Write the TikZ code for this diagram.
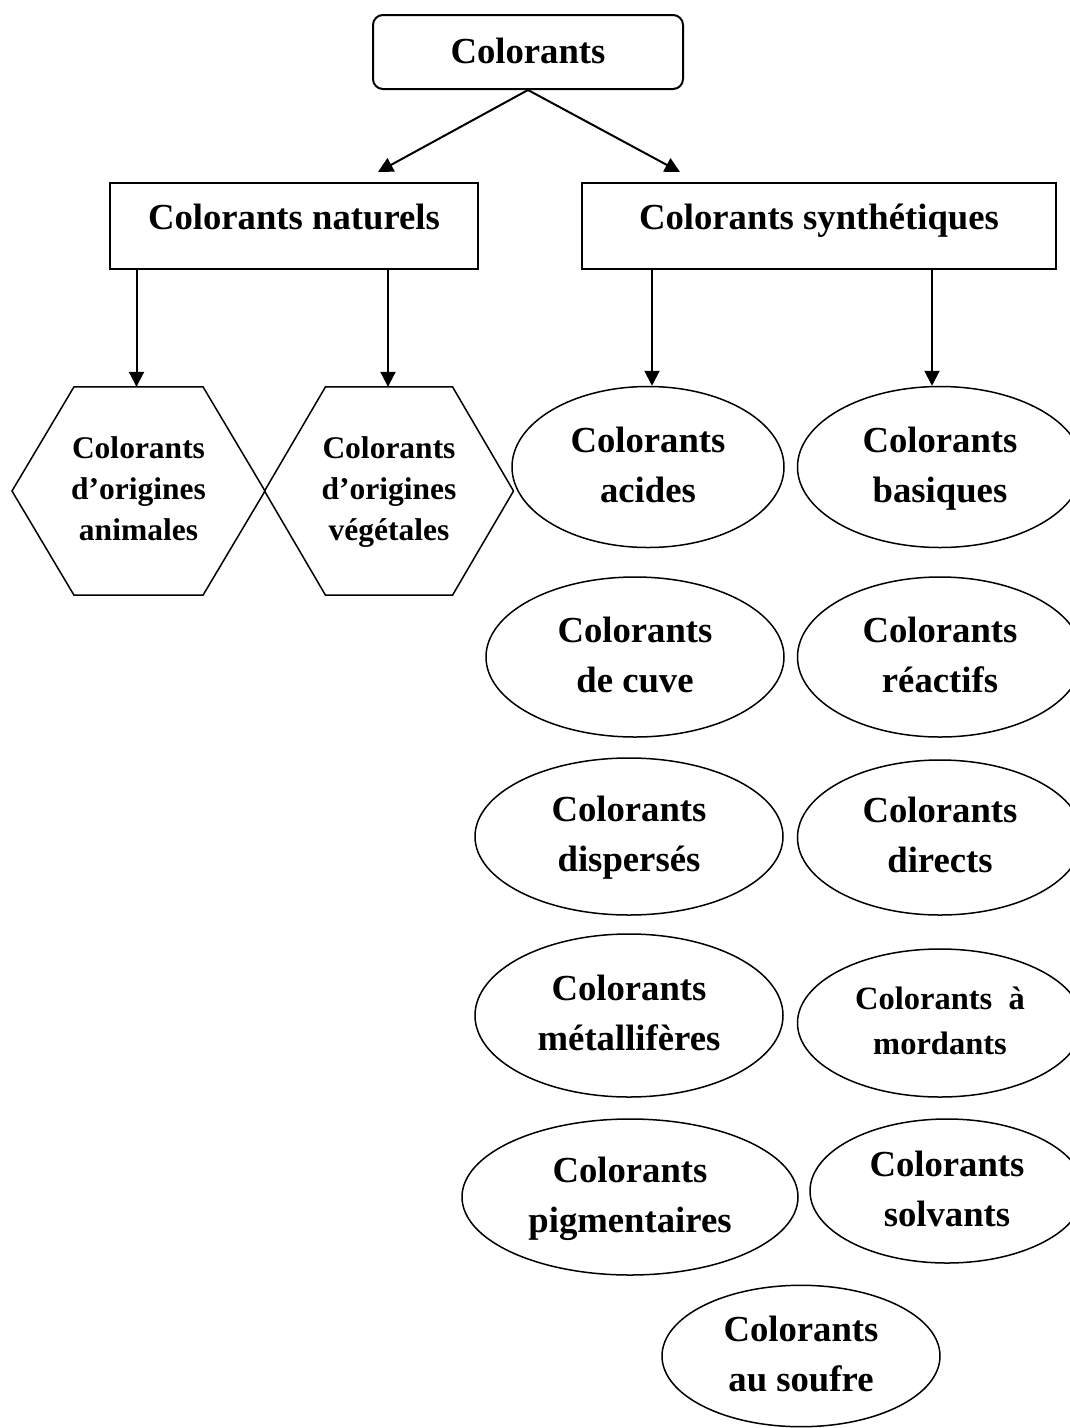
\documentclass[tikz,border=0pt]{standalone}
\usepackage{fontspec}
\setmainfont{Liberation Serif}
\usetikzlibrary{shapes.geometric,arrows.meta,calc}
\begin{document}
\begin{tikzpicture}[x=1pt,y=-1pt,
  big/.style={font=\fontsize{36.7}{50}\selectfont\bfseries},
  boxnode/.style={draw,line width=2pt,inner xsep=0pt,inner ysep=0pt,big},
  ell/.style={draw,ellipse,line width=1.5pt,inner sep=0pt,align=center,big},
  hexlab/.style={inner sep=0pt,align=center,font=\fontsize{31.5}{41}\selectfont\bfseries},
  hexline/.style={line width=1.5pt,line join=miter},
  arr/.style={line width=2pt,-{Triangle[length=15pt,width=15pt]}}]
\clip (0,0) rectangle (1070,1428);
\fill[white] (0,0) rectangle (1070,1428);

% top level
\node[boxnode,rounded corners=10pt,minimum width=310pt,text height=48pt,text depth=26pt] (top) at (528,52) {Colorants};
\node[boxnode,minimum width=368pt,text height=46pt,text depth=40pt] (nat) at (294,226) {Colorants naturels};
\node[boxnode,minimum width=474pt,text height=46pt,text depth=40pt] (syn) at (819,226) {Colorants synthétiques};

% hexagons
\node[hexlab,minimum width=253pt,minimum height=208pt] (h1) at (138.5,491) {\strut Colorants\\\strut d’origines\\\strut animales};
\node[hexlab,minimum width=250pt,minimum height=208pt] (h2) at (389,491) {\strut Colorants\\\strut d’origines\\\strut végétales};
\foreach \h/\w/\t in {h1/126.5/64.5,h2/124.5/63.5}
  \draw[hexline] ([xshift=-\w pt]\h.center) -- ([xshift=-\t pt]\h.north) -- ([xshift=\t pt]\h.north)
     -- ([xshift=\w pt]\h.center) -- ([xshift=\t pt]\h.south) -- ([xshift=-\t pt]\h.south) -- cycle;

% ellipses
\node[ell,minimum width=272pt,minimum height=161pt] (acid) at (648,467) {\strut Colorants\\\strut acides};
\node[ell,minimum width=285pt,minimum height=161pt] (bas) at (940,467) {\strut Colorants\\\strut basiques};
\node[ell,minimum width=298pt,minimum height=160pt] (cuve) at (635,657) {\strut Colorants\\\strut de cuve};
\node[ell,minimum width=285pt,minimum height=160pt] (reac) at (940,657) {\strut Colorants\\\strut réactifs};
\node[ell,minimum width=308pt,minimum height=157pt] (disp) at (629,836.5) {\strut Colorants\\\strut dispersés};
\node[ell,minimum width=285pt,minimum height=155pt] (dir) at (940,837.5) {\strut Colorants\\\strut directs};
\node[ell,minimum width=308pt,minimum height=163pt] (met) at (629,1015.5) {\strut Colorants\\\strut métallifères};
\node[ell,minimum width=285pt,minimum height=148pt,font=\fontsize{32.5}{45}\selectfont\bfseries] (mord) at (940,1023) {\strut Colorants\ \ à\\\strut mordants};
\node[ell,minimum width=336pt,minimum height=156pt] (pig) at (630,1197) {\strut Colorants\\\strut pigmentaires};
\node[ell,minimum width=274pt,minimum height=144pt] (solv) at (947,1191) {\strut Colorants\\\strut solvants};
\node[ell,minimum width=278pt,minimum height=141pt] (souf) at (801,1356) {\strut Colorants\\\strut au soufre};

% connectors
\path ([xshift=-2pt]h1.north) coordinate (t1)
      ([xshift=-1pt]h2.north) coordinate (t2)
      ([xshift=4pt]acid.north) coordinate (t3)
      ([xshift=-8pt]bas.north) coordinate (t4);
\draw[arr] (top.south) -- ([xshift=84pt,yshift=10pt]nat.north);
\draw[arr] (top.south) -- ([xshift=-139pt,yshift=10pt]syn.north);
\draw[arr] (nat.south -| t1) -- (t1);
\draw[arr] (nat.south -| t2) -- (t2);
\draw[arr] (syn.south -| t3) -- (t3);
\draw[arr] (syn.south -| t4) -- (t4);
\end{tikzpicture}
\end{document}
